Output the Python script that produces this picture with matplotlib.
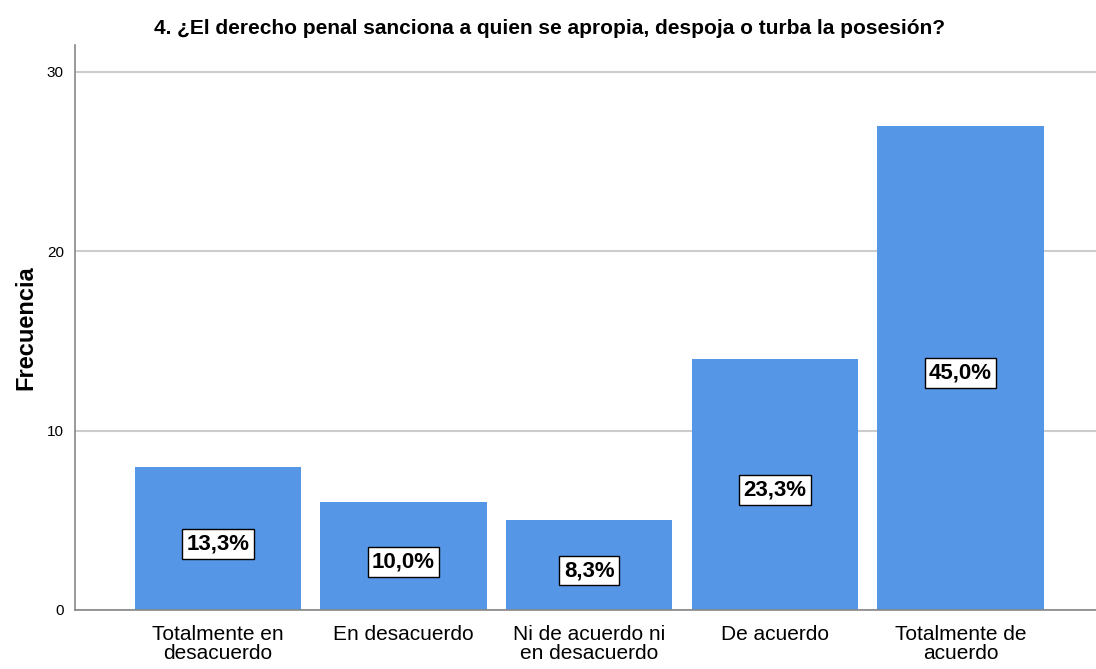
import matplotlib
matplotlib.use('Agg')
import matplotlib.pyplot as plt

plt.rcParams['font.family'] = ['Liberation Sans', 'DejaVu Sans']

categorias = ['Totalmente en\ndesacuerdo', 'En desacuerdo', 'Ni de acuerdo ni\nen desacuerdo',
              'De acuerdo', 'Totalmente de\nacuerdo']
frecuencias = [8, 6, 5, 14, 27]
porcentajes = ['13,3%', '10,0%', '8,3%', '23,3%', '45,0%']

fig = plt.figure(figsize=(10.96, 6.69), dpi=100)
ax = fig.add_axes([0.0684, 0.0882, 0.9316, 0.8445])

x = list(range(len(categorias)))
bars = ax.bar(x, frecuencias, width=0.895, color='#5596e6', zorder=2)

for b, p in zip(bars, porcentajes):
    ax.text(b.get_x() + b.get_width() / 2, b.get_height() / 2 - 0.3, p,
            ha='center', va='center', fontsize=16, fontweight='bold',
            bbox=dict(facecolor='white', edgecolor='black', linewidth=1,
                      boxstyle='square,pad=0.2'),
            zorder=3)

ax.set_xlim(-0.77, 4.73)
ax.set_ylim(0, 31.5)
ax.set_yticks([0, 10, 20, 30])
ax.set_xticks(x)
ax.set_xticklabels(categorias, fontsize=15, linespacing=1.0)
ax.tick_params(axis='both', length=0)
ax.tick_params(axis='y', labelsize=11, pad=8)
ax.tick_params(axis='x', pad=11)
ax.yaxis.grid(True, color='#cccccc', linewidth=1.5, zorder=0)

for s in ['top', 'right']:
    ax.spines[s].set_visible(False)
for s in ['left', 'bottom']:
    ax.spines[s].set_color('#888888')
    ax.spines[s].set_linewidth(1.2)

ax.set_ylabel('Frecuencia', fontsize=17, fontweight='bold', labelpad=7)
ax.set_title('4. ¿El derecho penal sanciona a quien se apropia, despoja o turba la posesión?',
             fontsize=15, fontweight='bold', pad=8, x=0.465)

fig.savefig('out.png', dpi=100)
